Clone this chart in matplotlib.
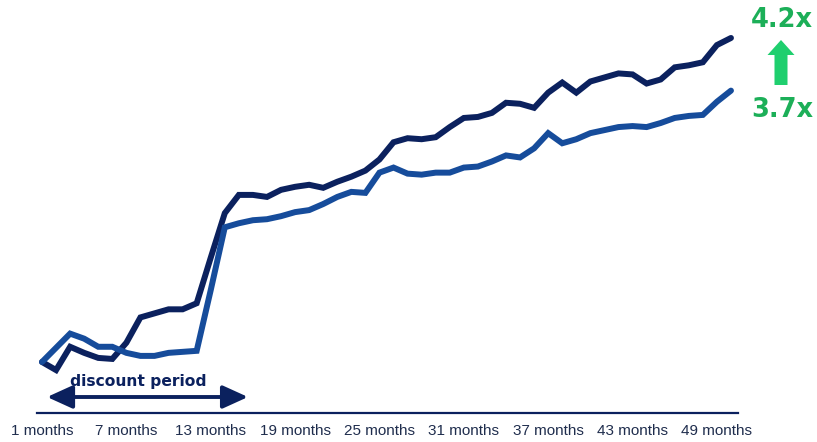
import matplotlib
matplotlib.use("Agg")
import matplotlib.pyplot as plt
from matplotlib.patches import FancyArrow
from matplotlib.transforms import IdentityTransform

months = list(range(1, 51))
series_a = [1.00, 0.92, 1.15, 1.09, 1.04, 1.03, 1.19, 1.44, 1.48, 1.52,
            1.52, 1.58, 2.03, 2.47, 2.65, 2.65, 2.63, 2.70, 2.73, 2.75,
            2.72, 2.78, 2.83, 2.89, 3.00, 3.17, 3.21, 3.20, 3.22, 3.32,
            3.41, 3.42, 3.46, 3.56, 3.55, 3.51, 3.66, 3.76, 3.66, 3.77,
            3.81, 3.85, 3.84, 3.75, 3.79, 3.91, 3.93, 3.96, 4.13, 4.20]
series_b = [1.00, 1.14, 1.28, 1.23, 1.15, 1.15, 1.09, 1.06, 1.06, 1.09,
            1.10, 1.11, 1.71, 2.33, 2.37, 2.40, 2.41, 2.44, 2.48, 2.50,
            2.56, 2.63, 2.68, 2.67, 2.87, 2.92, 2.86, 2.85, 2.87, 2.87,
            2.92, 2.93, 2.98, 3.04, 3.02, 3.11, 3.26, 3.16, 3.20, 3.26,
            3.29, 3.32, 3.33, 3.32, 3.36, 3.41, 3.43, 3.44, 3.57, 3.68]
tick_months = [1, 7, 13, 19, 25, 31, 37, 43, 49]
tick_labels = [f"{m} months" for m in tick_months]
label_top = "4.2x"
label_bottom = "3.7x"
period_label = "discount period"
period_span = (1.36, 15.65)
period_label_x = 7.85

DARK = "#0b215e"
MID = "#164c9b"
NAVY_TXT = "#1f2d4d"
GREEN_TXT = "#1caf58"
GREEN_ARROW = "#1fcf6e"

W, H = 817, 442
fig = plt.figure(figsize=(W / 100, H / 100), dpi=100)
ax = fig.add_axes([37 / W, (H - 413) / H, (738 - 37) / W, 413 / H])

ax.plot(months, series_a, color=DARK, lw=4.3, solid_capstyle="round", solid_joinstyle="miter", zorder=3)
ax.plot(months, series_b, color=MID, lw=4.3, solid_capstyle="round", solid_joinstyle="miter", zorder=4)

ax.set_xlim(0.644, 50.50)
ax.set_ylim(0.496, 4.575)

for s in ["top", "right", "left"]:
    ax.spines[s].set_visible(False)
ax.spines["bottom"].set_color(DARK)
ax.spines["bottom"].set_linewidth(1.6)
ax.set_yticks([])
ax.set_xticks(tick_months)
ax.set_xticklabels(tick_labels, fontsize=11, color=NAVY_TXT, family="Liberation Sans")
ax.tick_params(axis="x", length=0, pad=8)

# discount period arrow
ax.annotate("", xy=(period_span[1], 0.654), xytext=(period_span[0], 0.654),
            arrowprops=dict(arrowstyle="<|-|>,head_length=1.1,head_width=0.5",
                            color=DARK, lw=2.8, shrinkA=0, shrinkB=0,
                            mutation_scale=14))
ax.text(period_label_x, 0.81, period_label, ha="center", va="center",
        fontsize=11.2, fontweight="bold", color=DARK, family="DejaVu Sans")

fig.text(782 / W, 1 - 20 / H, label_top, ha="center", va="center",
         fontsize=18.5, fontweight="bold", color=GREEN_TXT, family="DejaVu Sans")
fig.text(782 / W, 1 - 110 / H, label_bottom, ha="center", va="center",
         fontsize=18.5, fontweight="bold", color=GREEN_TXT, family="DejaVu Sans")

arr = FancyArrow(781, H - 85, 0, 45, width=13, head_width=27, head_length=15,
                 length_includes_head=True, transform=IdentityTransform(),
                 color=GREEN_ARROW, lw=0)
fig.add_artist(arr)

fig.savefig("out.png", dpi=100)
